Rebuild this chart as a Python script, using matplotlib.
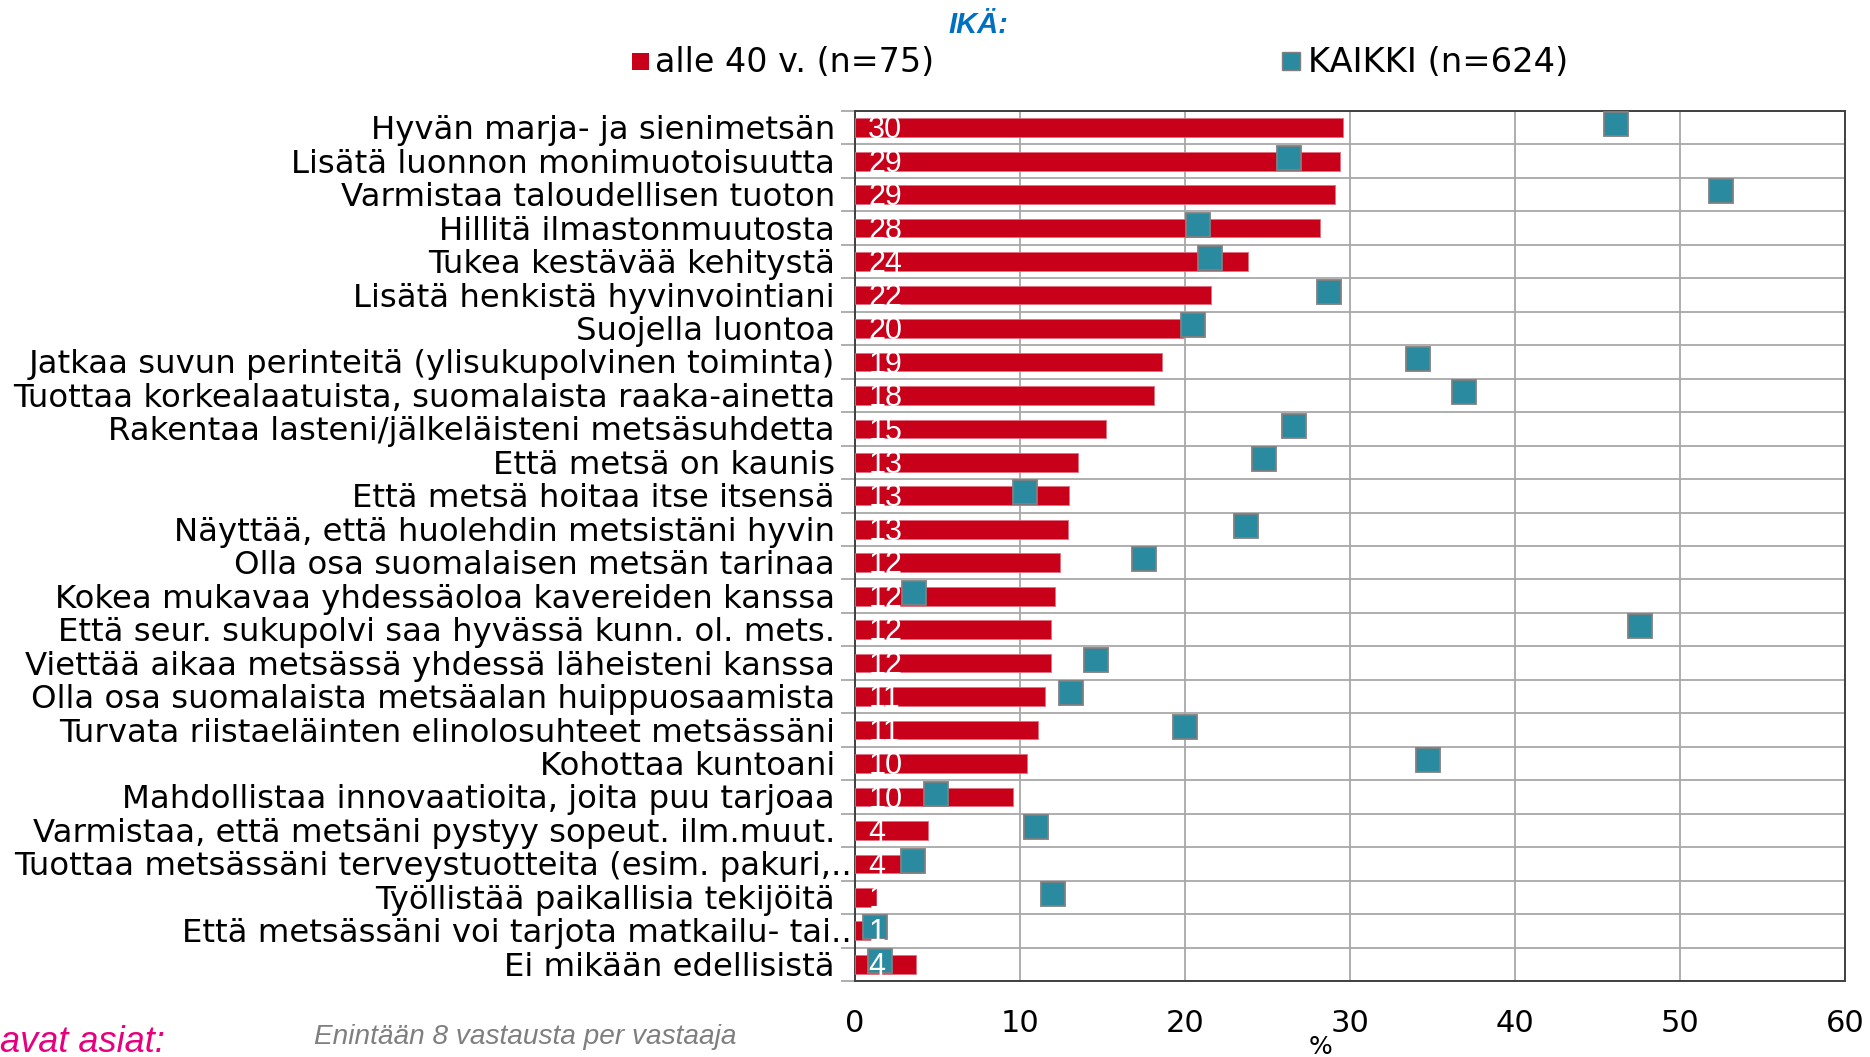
import matplotlib.pyplot as plt
import numpy as np
from matplotlib.patches import Rectangle

categories = [
    "Hyvän marja- ja sienimetsän",
    "Lisätä luonnon monimuotoisuutta",
    "Varmistaa taloudellisen tuoton",
    "Hillitä ilmastonmuutosta",
    "Tukea kestävää kehitystä",
    "Lisätä henkistä hyvinvointiani",
    "Suojella luontoa",
    "Jatkaa suvun perinteitä (ylisukupolvinen toiminta)",
    "Tuottaa korkealaatuista, suomalaista raaka-ainetta",
    "Rakentaa lasteni/jälkeläisteni metsäsuhdetta",
    "Että metsä on kaunis",
    "Että metsä hoitaa itse itsensä",
    "Näyttää, että huolehdin metsistäni hyvin",
    "Olla osa suomalaisen metsän tarinaa",
    "Kokea mukavaa yhdessäoloa kavereiden kanssa",
    "Että seur. sukupolvi saa hyvässä kunn. ol. mets.",
    "Viettää aikaa metsässä yhdessä läheisteni kanssa",
    "Olla osa suomalaista metsäalan huippuosaamista",
    "Turvata riistaeläinten elinolosuhteet metsässäni",
    "Kohottaa kuntoani",
    "Mahdollistaa innovaatioita, joita puu tarjoaa",
    "Varmistaa, että metsäni pystyy sopeut. ilm.muut.",
    "Tuottaa metsässäni terveystuotteita (esim. pakuri,..",
    "Työllistää paikallisia tekijöitä",
    "Että metsässäni voi tarjota matkailu- tai..",
    "Ei mikään edellisistä",
]
truncated = {22, 24}

# alle 40 v. (n=75), %
under40 = [29.6, 29.4, 29.1, 28.2, 23.8, 21.6, 19.9, 18.6, 18.1, 15.2,
           13.5, 13.0, 12.9, 12.4, 12.1, 11.9, 11.9, 11.5, 11.1, 10.4,
           9.6, 4.4, 4.0, 1.4, 1.2, 3.7]
under40_labels = [30, 29, 29, 28, 24, 22, 20, 19, 18, 15, 13, 13, 13, 12,
                  12, 12, 12, 11, 11, 10, 10, 4, 4, 1, 1, 4]
# KAIKKI (n=624), %
kaikki = [46.1, 26.3, 52.5, 20.8, 21.5, 28.7, 20.5, 34.1, 36.9, 26.6,
          24.8, 10.3, 23.7, 17.5, 3.6, 47.6, 14.6, 13.1, 20.0, 34.7,
          4.9, 11.0, 3.5, 12.0, 1.2, 1.5]
xticks = [0, 10, 20, 30, 40, 50, 60]

RED = "#C8001A"
TEAL = "#2A8AA0"
GRID = "#A8A8A8"
DARK = "#404040"

fig = plt.figure(figsize=(18.7, 10.57), dpi=100)
fig.patch.set_facecolor("white")
ax = fig.add_axes([0.4572, 0.0719, 0.5294, 0.8231])

y = np.arange(len(categories))
ax.barh(y, under40, height=0.56, color=RED, edgecolor="#E07080",
        linewidth=0.6, zorder=3)
ax.plot(kaikki, y - 0.1, linestyle="none", marker="s", markersize=17.5,
        markerfacecolor=TEAL, markeredgecolor="#808080",
        markeredgewidth=1.3, zorder=4)

for yi, lab in zip(y, under40_labels):
    ax.text(0.8, yi + 0.08, str(lab), color="white", fontsize=22,
            family="Liberation Sans", ha="left", va="center", zorder=5)

# category labels, right-aligned against the axis
ytrans = ax.get_yaxis_transform()
for i, name in enumerate(categories):
    off = -3 if i in truncated else -20
    ax.annotate(name, xy=(0, i), xycoords=ytrans, xytext=(off, -3),
                textcoords="offset pixels", ha="right", va="center",
                fontsize=23.3, family="DejaVu Sans", color="black")

ax.set_xlim(0, 60)
ax.set_ylim(len(categories) - 0.5, -0.5)
ax.set_xticks(xticks)
ax.set_xticklabels([str(t) for t in xticks], fontsize=22)
ax.tick_params(axis="x", length=0, pad=20)

bounds = np.arange(-0.5, len(categories) + 0.5, 1.0)
ax.set_yticks(bounds)
ax.set_yticklabels([])
ax.tick_params(axis="y", length=10, width=1.3, color=GRID, direction="out")

ax.grid(True, axis="both", color=GRID, linewidth=1.3, zorder=0)
ax.set_axisbelow(True)
for sp in ax.spines.values():
    sp.set_color(DARK)
    sp.set_linewidth(1.4)

# legend header and entries
fig.text(978 / 1870, 1 - 25 / 1057, "IKÄ:", color="#0070C0", fontsize=21,
         fontweight="bold", fontstyle="italic", family="Liberation Sans",
         ha="center", va="center")
fig.add_artist(Rectangle((632 / 1870, 1 - 70 / 1057), 17 / 1870, 17 / 1057,
                         transform=fig.transFigure, facecolor=RED,
                         edgecolor="none"))
fig.text(655 / 1870, 1 - 62 / 1057, "alle 40 v. (n=75)", fontsize=24,
         ha="left", va="center")
fig.add_artist(Rectangle((1282 / 1870, 1 - 70 / 1057), 18 / 1870, 18 / 1057,
                         transform=fig.transFigure, facecolor=TEAL,
                         edgecolor="#808080", linewidth=1.0))
fig.text(1308 / 1870, 1 - 62 / 1057, "KAIKKI (n=624)", fontsize=24.3,
         ha="left", va="center")

fig.text(1321 / 1870, 1 - 1047 / 1057, "%", fontsize=18, ha="center",
         va="center")

fig.text(0.0, 1 - 1042 / 1057, "avat asiat:",
         color="#E6007E", fontsize=26, fontstyle="italic",
         family="Liberation Sans", ha="left", va="center")
fig.text(314 / 1870, 1 - 1037 / 1057, "Enintään 8 vastausta per vastaaja",
         color="#7F7F7F", fontsize=20.2, fontstyle="italic",
         family="Liberation Sans", ha="left", va="center")

fig.savefig("out.png", dpi=100, facecolor="white")
